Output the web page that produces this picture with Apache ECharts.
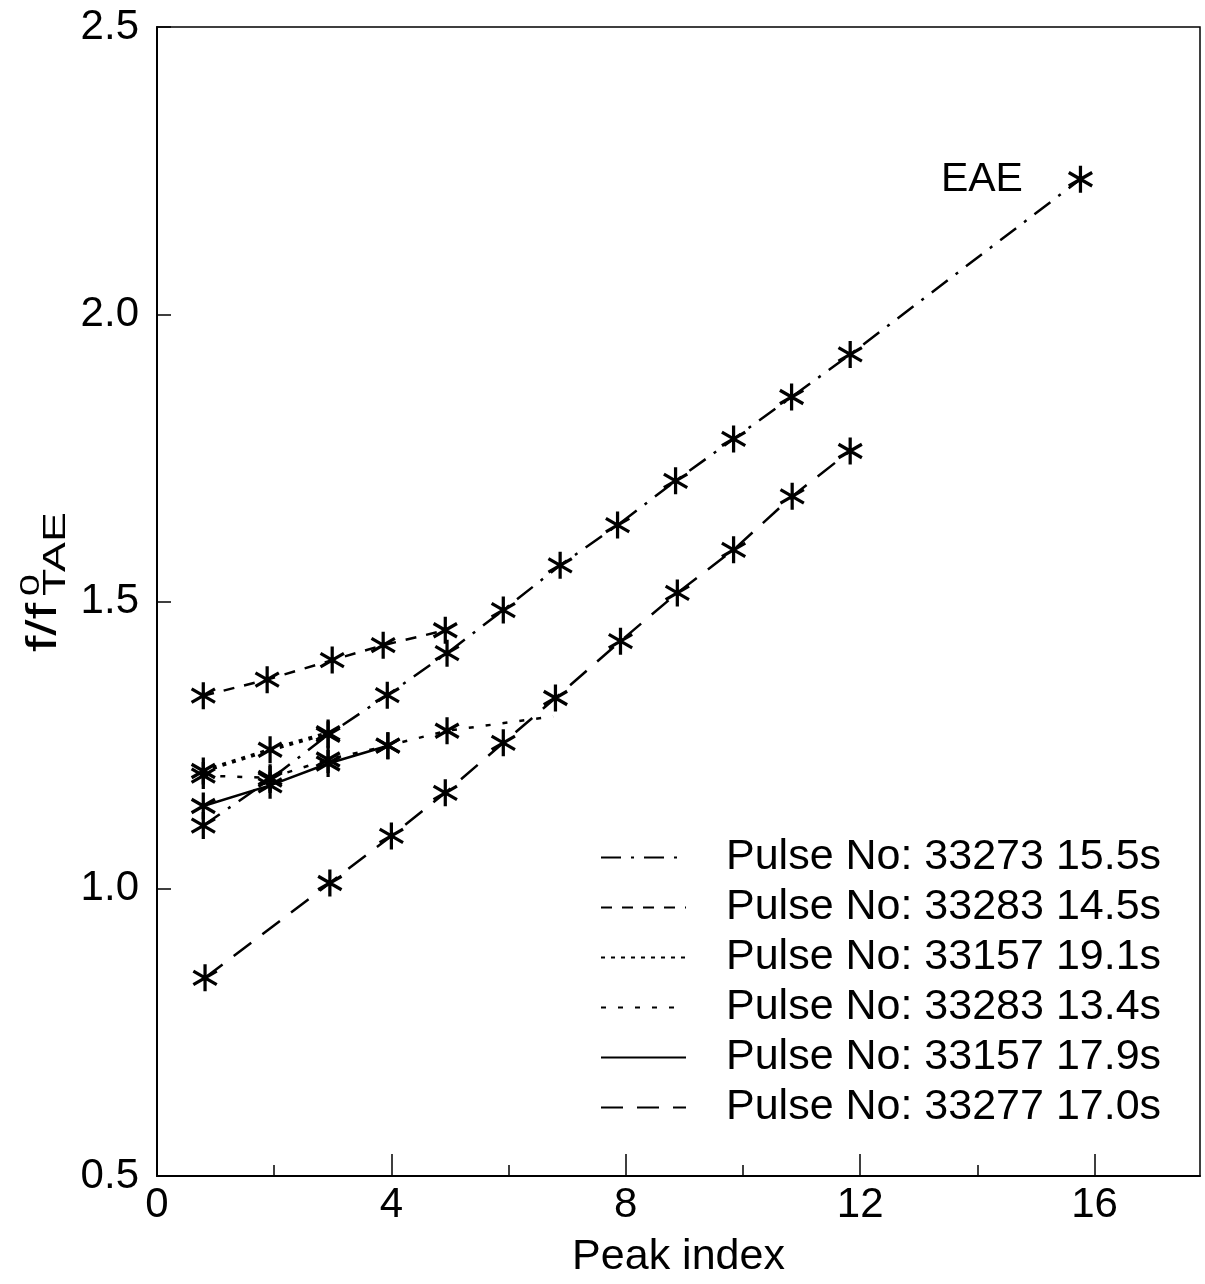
<!DOCTYPE html>
<html>
<head>
<meta charset="utf-8">
<script src="https://cdn.jsdelivr.net/npm/echarts@6/dist/echarts.min.js"></script>
<style>
  html, body { margin: 0; padding: 0; background: #fff; }
  #chart { width: 1205px; height: 1284px; }
</style>
</head>
<body>
<div id="chart"></div>
<script>
// peak positions / values
const x33273a = [0.79, 1.93, 2.92, 3.93, 4.95, 5.91, 6.88, 7.86, 8.85, 9.84, 10.83, 11.83, 15.76]
const y33273a = [1.11, 1.19, 1.268, 1.337, 1.41, 1.485, 1.563, 1.633, 1.71, 1.783, 1.856, 1.93, 2.235]
const x33283a = [0.79, 1.88, 2.99, 3.86, 4.92]
const y33283a = [1.336, 1.364, 1.398, 1.424, 1.45]
const x33157a = [0.79, 1.93, 2.92]
const y33157a = [1.205, 1.242, 1.271]
const x33283b = [0.79, 1.93, 2.92, 3.94, 4.95, 6.76]
const y33283b = [1.197, 1.193, 1.225, 1.249, 1.275, 1.30]
const x33157b = [0.79, 1.93, 2.92, 3.94]
const y33157b = [1.144, 1.18, 1.218, 1.249]
const x33277 = [0.82, 2.95, 4.0, 4.92, 5.91, 6.8, 7.91, 8.88, 9.84, 10.84, 11.83]
const y33277 = [0.845, 1.01, 1.092, 1.167, 1.254, 1.332, 1.431, 1.515, 1.59, 1.683, 1.762]

const names = [
  'Pulse No: 33273 15.5s',
  'Pulse No: 33283 14.5s',
  'Pulse No: 33157 19.1s',
  'Pulse No: 33283 13.4s',
  'Pulse No: 33157 17.9s',
  'Pulse No: 33277 17.0s'
]
const majorTicks = [0, 4, 8, 12, 16]
const minorTicks = [2, 6, 10, 14]
const yTicks = [0.5, 1.0, 1.5, 2.0, 2.5]

const FONT = 'Liberation Sans'

// six armed asterisk
const STAR = 'path://M-1.2,-10L1.2,-10L1.2,10L-1.2,10Z' +
  'M8.06,6.04L-9.26,-3.96L-8.06,-6.04L9.26,3.96Z' +
  'M-8.06,6.04L-9.26,3.96L8.06,-6.04L9.26,-3.96Z'

function makeSeries(name, xs, ys, dash, width) {
  return {
    name: name,
    type: 'line',
    data: xs.map((x, i) => [x, ys[i]]),
    symbol: STAR,
    symbolSize: [25, 27],
    itemStyle: { color: '#000' },
    lineStyle: { color: '#000', width: width, type: dash, cap: 'butt' },
    emphasis: { disabled: true },
    silent: true
  }
}

let series = [
  makeSeries(names[0], x33273a, y33273a, [20, 10, 3, 10], 2.5),
  makeSeries(names[1], x33283a, y33283a, [11, 10], 2.5),
  makeSeries(names[2], x33157a, y33157a, [4, 6], 4),
  makeSeries(names[3], x33283b, y33283b, [5, 12], 2.5),
  makeSeries(names[4], x33157b, y33157b, 'solid', 2.5),
  makeSeries(names[5], x33277, y33277, [22, 14], 2.5)
]
// EAE label on the last point
let eae = series[0].data.length - 1
series[0].data[eae] = {
  value: series[0].data[eae],
  label: { show: true, formatter: 'EAE', position: 'left', distance: 45,
    color: '#000', fontSize: 41, fontFamily: FONT }
}
// sparse dotted line ends without a marker
let last = series[3].data.length - 1
series[3].data[last] = { value: series[3].data[last], symbol: 'none' }

let chart = echarts.init(document.getElementById('chart'))
chart.setOption({
  animation: false,
  backgroundColor: '#fff',
  grid: { left: 157, right: 5, top: 27, bottom: 104, show: true, borderColor: '#000', borderWidth: 1.5 },
  legend: {
    data: names,
    orient: 'vertical',
    left: 595,
    top: 831,
    itemWidth: 85,
    itemHeight: 20,
    itemGap: 7,
    selectedMode: false,
    itemStyle: { opacity: 0 },
    textStyle: { fontSize: 43, color: '#000', fontFamily: FONT, padding: [0, 0, 0, 35] }
  },
  xAxis: [{
    type: 'value',
    min: 0,
    max: 17.8,
    name: 'Peak index',
    nameLocation: 'middle',
    nameGap: 60,
    nameTextStyle: { fontSize: 43, color: '#000', fontFamily: FONT },
    axisLine: { lineStyle: { color: '#000', width: 2 } },
    axisTick: { inside: true, length: 22, customValues: majorTicks, lineStyle: { color: '#000', width: 1.5 } },
    axisLabel: { customValues: majorTicks, fontSize: 42, color: '#000', fontFamily: FONT, margin: 8 },
    splitLine: { show: false }
  }, {
    type: 'value',
    min: 0,
    max: 17.8,
    position: 'bottom',
    axisLine: { show: false },
    axisTick: { inside: true, length: 11, customValues: minorTicks, lineStyle: { color: '#000', width: 1.5 } },
    axisLabel: { show: false },
    splitLine: { show: false }
  }],
  yAxis: {
    type: 'value',
    min: 0.5,
    max: 2.5,
    axisLine: { lineStyle: { color: '#000', width: 2 } },
    axisTick: { inside: true, length: 14, customValues: yTicks, lineStyle: { color: '#000', width: 1.5 } },
    axisLabel: { customValues: yTicks, formatter: v => v.toFixed(1), fontSize: 42, color: '#000', fontFamily: FONT, margin: 18 },
    splitLine: { show: false }
  },
  // y axis title f/f0_TAE, stacked super/subscript
  graphic: [{
    type: 'group',
    x: 44,
    y: 652,
    rotation: Math.PI / 2,
    scaleX: 1.4,
    silent: true,
    children: [
      { type: 'text', x: 0, y: 0, style: { text: 'f/f', fontSize: 42, fontFamily: FONT, fill: '#000', align: 'left', verticalAlign: 'middle' } },
      { type: 'text', x: 40, y: -13, style: { text: '0', fontSize: 28, fontFamily: FONT, fill: '#000', align: 'left', verticalAlign: 'middle' } },
      { type: 'text', x: 40, y: 12, style: { text: 'TAE', fontSize: 32, fontFamily: FONT, fill: '#000', align: 'left', verticalAlign: 'middle' } }
    ]
  }],
  series: series
})
</script>
</body>
</html>
